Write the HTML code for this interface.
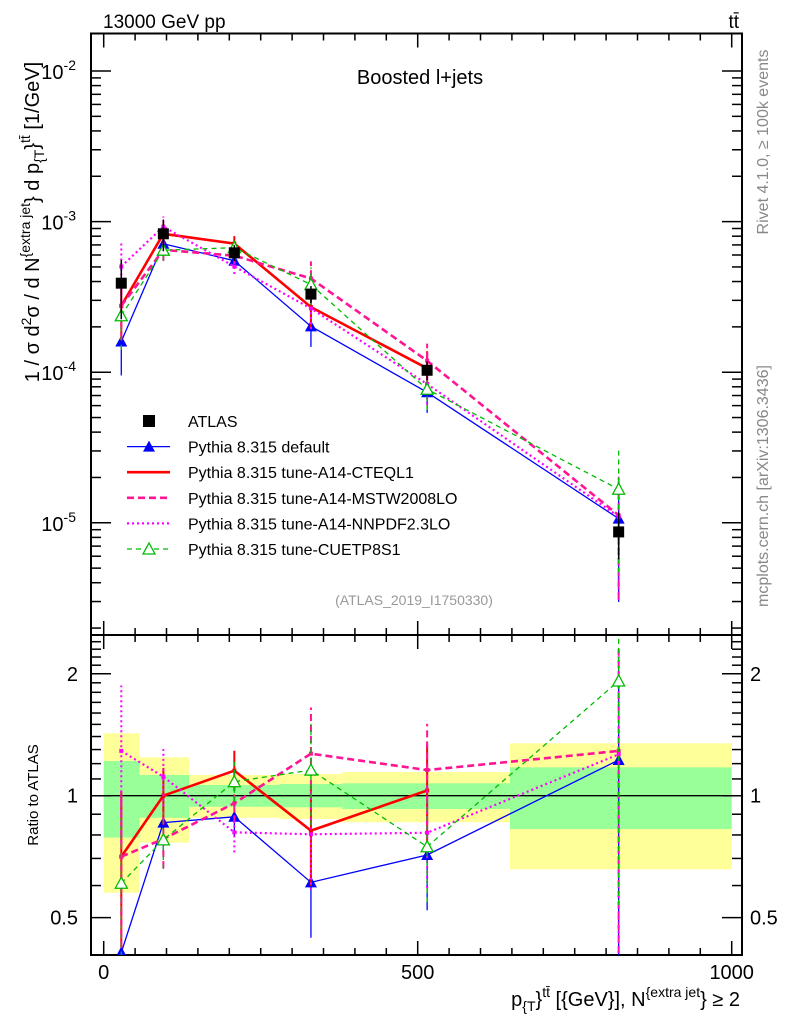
<!DOCTYPE html>
<html><head><meta charset="utf-8"><style>
html,body{margin:0;padding:0;background:#fff;}
svg{display:block;font-family:"Liberation Sans",sans-serif;}
</style></head><body>
<svg id="c" width="786" height="1024" viewBox="0 0 786 1024" xmlns="http://www.w3.org/2000/svg">
<text x="103" y="28" font-size="19">13000 GeV pp</text>
<text x="739" y="28" font-size="19" text-anchor="end">tt̄</text>
<text x="420" y="84" font-size="20" text-anchor="middle">Boosted l+jets</text>
<text x="414" y="605" font-size="14" fill="#999" text-anchor="middle">(ATLAS_2019_I1750330)</text>
<text transform="translate(768,142) rotate(-90)" font-size="16" fill="#888" text-anchor="middle">Rivet 4.1.0, ≥ 100k events</text>
<text transform="translate(768,486) rotate(-90)" font-size="16" fill="#888" text-anchor="middle">mcplots.cern.ch [arXiv:1306.3436]</text>
<text transform="translate(39,222) rotate(-90)" font-size="20" text-anchor="middle">1 / σ d<tspan dy="-8" font-size="14">2</tspan><tspan dy="8">σ /  d N</tspan><tspan dy="-9" font-size="14">{extra jet</tspan><tspan dy="9">} d p</tspan><tspan dy="5" font-size="14">{T</tspan><tspan dy="-5">}</tspan><tspan dy="-9" font-size="14">tt̄</tspan><tspan dy="9"> [1/GeV]</tspan></text>
<text transform="translate(38,795) rotate(-90)" font-size="15" text-anchor="middle">Ratio to ATLAS</text>
<text x="740" y="1006" font-size="20" text-anchor="end">p<tspan dy="5" font-size="14">{T</tspan><tspan dy="-5">}</tspan><tspan dy="-9" font-size="14">tt̄</tspan><tspan dy="9"> [{GeV}], N</tspan><tspan dy="-9" font-size="14">{extra jet</tspan><tspan dy="9">} ≥ 2</tspan></text>
<g id="g"></g>
</svg>
<script>
const xCenters=[28,95,208,330,515,820];
const binEdges=[0,57,136,280,380,647,1000];
const atlas=[3.9e-4,8.3e-4,6.2e-4,3.3e-4,1.03e-4,8.7e-6];
const totLo=[0.576,0.766,0.882,0.876,0.86,0.658];
const totHi=[1.426,1.244,1.125,1.131,1.144,1.347];
const statLo=[0.788,0.882,0.939,0.936,0.927,0.827];
const statHi=[1.218,1.125,1.063,1.069,1.073,1.175];
const rDefault=[0.41,0.858,0.887,0.611,0.714,1.225];
const rCTEQ=[0.707,1.0,1.153,0.82,1.03];
const rMSTW=[0.707,0.782,0.958,1.27,1.157,1.29];
const rNNPDF=[1.29,1.114,0.812,0.803,0.81,1.265];
const rCUETP=[0.608,0.778,1.083,1.157,0.748,1.92];
const relErr=[0.45,0.17,0.12,0.3,0.3,0.8];
const xTickLabels=[0,500,1000];
const yDecades=[-2,-3,-4,-5];
const ratioTickLabels=[0.5,1,2];

const NS="http://www.w3.org/2000/svg";
const G=document.getElementById('g');
const L=91,R=742,T1=33.5,B1=635,B2=955;
const X=v=>103.7+(v)*0.628;
const Y=v=>71+(-2-Math.log10(v))*150.6;
const YR=v=>795.7-Math.log10(v)*405;
function mk(tag,at,parent){const e=document.createElementNS(NS,tag);for(const k in at)e.setAttribute(k,at[k]);(parent||G).appendChild(e);return e;}

const bands=mk('g',{});


for(let i=0;i<6;i++){
  const a=mk('rect',{x:X(binEdges[i]),y:YR(totHi[i]),width:X(binEdges[i+1])-X(binEdges[i]),height:YR(totLo[i])-YR(totHi[i]),fill:'#ffff99'},bands);
  
  
  const b=mk('rect',{x:X(binEdges[i]),y:YR(statHi[i]),width:X(binEdges[i+1])-X(binEdges[i]),height:YR(statLo[i])-YR(statHi[i]),fill:'#99ff99'},bands);
  
  
}
mk('line',{x1:L,x2:R,y1:YR(1),y2:YR(1),stroke:'#000','stroke-width':1.3});

mk('rect',{x:L,y:T1,width:R-L,height:B1-T1,fill:'none',stroke:'#000','stroke-width':2});
mk('rect',{x:L,y:B1,width:R-L,height:B2-B1,fill:'none',stroke:'#000','stroke-width':2});

for(let v=0;v<=1000;v+=50){
  const big=v%500===0, len=big?14:7;
  [[B1,-1],[T1,1],[B2,-1],[B1,1]].forEach(([y,d])=>mk('line',{x1:X(v),x2:X(v),y1:y,y2:y+d*len,stroke:'#000','stroke-width':1.5}));
}
xTickLabels.forEach(v=>{const t=mk('text',{x:X(v),y:979,'font-size':20,'text-anchor':'middle'});t.textContent=v;

});
for(let d=-6;d<=-2;d++){for(let m=1;m<10;m++){const v=m*Math.pow(10,d);const y=Y(v);if(y<T1||y>B1)continue;
  const len=m===1?20:10;
  mk('line',{x1:L,x2:L+len,y1:y,y2:y,stroke:'#000','stroke-width':1.5});
  mk('line',{x1:R,x2:R-len,y1:y,y2:y,stroke:'#000','stroke-width':1.5});}}
yDecades.forEach(d=>{const t=mk('text',{x:76,y:Y(Math.pow(10,d))+8,'font-size':20,'text-anchor':'end'});
t.innerHTML='10<tspan dy="-9" font-size="14">'+d+'</tspan>';

});
[0.5,0.6,0.7,0.8,0.9,1,1.1,1.2,1.3,1.4,1.5,1.6,1.7,1.8,1.9,2,2.1,2.2,2.3,2.4].forEach(v=>{const y=YR(v);if(y<B1||y>B2)return;
  const len=[0.5,1,2].includes(v)?20:10;
  mk('line',{x1:L,x2:L+len,y1:y,y2:y,stroke:'#000','stroke-width':1.5});
  mk('line',{x1:R,x2:R-len,y1:y,y2:y,stroke:'#000','stroke-width':1.5});});
ratioTickLabels.forEach(v=>{
  const t=mk('text',{x:78,y:YR(v)+7,'font-size':20,'text-anchor':'end'});t.textContent=v;
  
  
  const t2=mk('text',{x:750,y:YR(v)+7,'font-size':20}); t2.textContent=v;
  
  });

const series=[
 {name:'default',r:rDefault,c:'#0000ff',w:1.3,dash:'',mk:'tri'},
 {name:'cteql1',r:rCTEQ,c:'#ff0000',w:2.6,dash:'',mk:'dot'},
 {name:'mstw2008lo',r:rMSTW,c:'#ff1493',w:2.6,dash:'7,4',mk:'dot'},
 {name:'nnpdf23lo',r:rNNPDF,c:'#ff00ff',w:2.2,dash:'2,3',mk:'dot'},
 {name:'cuetp8s1',r:rCUETP,c:'#00bb00',w:1.3,dash:'5,4',mk:'otri'}];
const clip=mk('clipPath',{id:'cp1'});mk('rect',{x:L,y:T1,width:R-L,height:B1-T1},clip);
const clip2=mk('clipPath',{id:'cp2'});mk('rect',{x:L,y:B1,width:R-L,height:B2-B1},clip2);
function marker(p,x,y,s){
  if(s.mk==='tri')mk('path',{d:`M${x-6},${y+5}L${x+6},${y+5}L${x},${y-6}Z`,fill:s.c},p);
  else if(s.mk==='otri')mk('path',{d:`M${x-6},${y+5}L${x+6},${y+5}L${x},${y-6}Z`,fill:'#fff',stroke:s.c,'stroke-width':1.3},p);
  else mk('rect',{x:x-2,y:y-2,width:4,height:4,fill:s.c},p);
}
series.forEach(s=>{
  [[1,'cp1'],[2,'cp2']].forEach(([pan,cp])=>{
    const g=mk('g',{'clip-path':`url(#${cp})`});
    
    
    const pts=s.r.map((r,i)=>[X(xCenters[i]),pan===1?Y(r*atlas[i]):YR(r),r,i]);
    pts.forEach(([x,y,r,i])=>{
      const lo=r*(1-relErr[i]*0.9),hi=r*(1+relErr[i]);
      const y1=pan===1?Y(lo*atlas[i]):YR(Math.max(lo,0.01)),y2=pan===1?Y(hi*atlas[i]):YR(hi);
      mk('line',{x1:x,x2:x,y1:y1,y2:y2,stroke:s.c,'stroke-width':s.w>2?2:1.3,'stroke-dasharray':s.dash},g);
    });
    mk('polyline',{points:pts.map(p=>p[0]+','+p[1]).join(' '),fill:'none',stroke:s.c,'stroke-width':s.w,'stroke-dasharray':s.dash},g);
    pts.forEach(([x,y])=>marker(g,x,y,s));
  });
});
const ag=mk('g',{});


atlas.forEach((v,i)=>{const x=X(xCenters[i]),y=Y(v);
  mk('line',{x1:x,x2:x,y1:Y(v*totLo[i]),y2:Y(v*totHi[i]),stroke:'#000','stroke-width':1.5},ag);
  const r=mk('rect',{x:x-5.5,y:y-5.5,width:11,height:11,fill:'#000'},ag);
  
  });
const lg=mk('g',{});


const labels=['ATLAS','Pythia 8.315 default','Pythia 8.315 tune-A14-CTEQL1','Pythia 8.315 tune-A14-MSTW2008LO','Pythia 8.315 tune-A14-NNPDF2.3LO','Pythia 8.315 tune-CUETP8S1'];
labels.forEach((lab,i)=>{const y=421+i*25.6;
  const e=mk('g',{},lg);
  
  
  if(i===0)mk('rect',{x:143,y:y-6,width:12,height:12,fill:'#000'},e);
  else{const s=series[i-1];mk('line',{x1:127,x2:170,y1:y,y2:y,stroke:s.c,'stroke-width':s.w,'stroke-dasharray':s.dash},e);
    if(s.mk!=='dot')marker(e,149,y,s);}
  const t=mk('text',{x:188,y:y+6,'font-size':16},e);t.textContent=lab;});
</script>
</body></html>
